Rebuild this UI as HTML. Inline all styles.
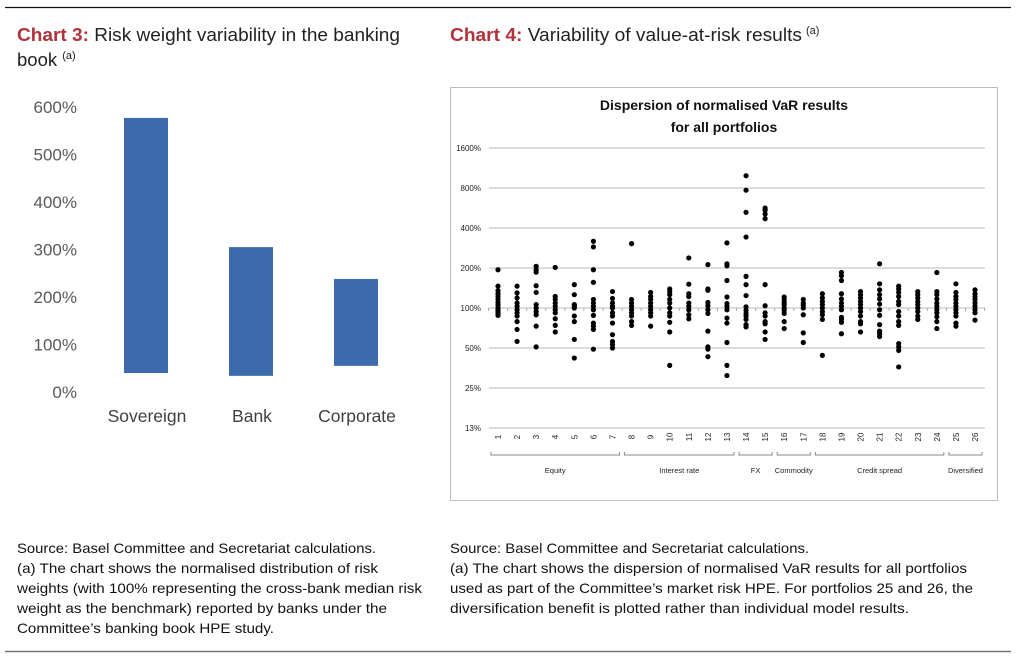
<!DOCTYPE html>
<html><head><meta charset="utf-8"><style>
html,body{margin:0;padding:0;background:#fff;}
svg{display:block;font-family:"Liberation Sans",sans-serif;}
</style></head><body>
<svg id="root" width="1018" height="658" viewBox="0 0 1018 658">
<line x1="5" y1="7.5" x2="1011" y2="7.5" stroke="#111" stroke-width="1.2"/>
<line x1="5" y1="651.5" x2="1011" y2="651.5" stroke="#777" stroke-width="1.5"/>

<g font-size="18.5" fill="#222">
<text x="17" y="41" textLength="383" lengthAdjust="spacingAndGlyphs"><tspan fill="#b0323a" font-weight="bold">Chart 3:</tspan> Risk weight variability in the banking</text>
<text x="17" y="66">book <tspan font-size="11" dy="-7">(a)</tspan></text>
</g>
<g font-size="18.5" fill="#222">
<text x="450" y="41" textLength="352" lengthAdjust="spacingAndGlyphs"><tspan fill="#b0323a" font-weight="bold">Chart 4:</tspan> Variability of value-at-risk results</text>
<text x="806" y="34" font-size="11">(a)</text>
</g>

<g id="c3"></g>

<rect x="450.5" y="87.5" width="547" height="413" fill="#fff" stroke="#bbb"/>
<text x="724" y="110" text-anchor="middle" font-size="14" font-weight="bold" fill="#111">Dispersion of normalised VaR results</text>
<text x="724" y="132" text-anchor="middle" font-size="14" font-weight="bold" fill="#111">for all portfolios</text>
<g id="c4"></g>

<g font-size="14" fill="#111">
<text x="17" y="553" textLength="359" lengthAdjust="spacingAndGlyphs">Source: Basel Committee and Secretariat calculations.</text>
<text x="17" y="573" textLength="361" lengthAdjust="spacingAndGlyphs">(a) The chart shows the normalised distribution of risk</text>
<text x="17" y="593" textLength="405" lengthAdjust="spacingAndGlyphs">weights (with 100% representing the cross-bank median risk</text>
<text x="17" y="613" textLength="370" lengthAdjust="spacingAndGlyphs">weight as the benchmark) reported by banks under the</text>
<text x="17" y="633" textLength="257" lengthAdjust="spacingAndGlyphs">Committee’s banking book HPE study.</text>
</g>
<g font-size="14" fill="#111">
<text x="450" y="553" textLength="359" lengthAdjust="spacingAndGlyphs">Source: Basel Committee and Secretariat calculations.</text>
<text x="450" y="573" textLength="517" lengthAdjust="spacingAndGlyphs">(a) The chart shows the dispersion of normalised VaR results for all portfolios</text>
<text x="450" y="593" textLength="523" lengthAdjust="spacingAndGlyphs">used as part of the Committee’s market risk HPE. For portfolios 25 and 26, the</text>
<text x="450" y="613" textLength="459" lengthAdjust="spacingAndGlyphs">diversification benefit is plotted rather than individual model results.</text>
</g>
</svg>
<script>
const NS="http://www.w3.org/2000/svg";
// Chart 3 data
const c3Categories=["Sovereign","Bank","Corporate"];
const c3Low=[40,34,55];
const c3High=[577,305,238];
const c3Ticks=[0,100,200,300,400,500,600];
// Chart 4 data
const c4Ticks=[12.5,25,50,100,200,400,800,1600];
const c4TickLabels=["13%","25%","50%","100%","200%","400%","800%","1600%"];
const c4Groups=["Equity","Interest rate","FX","Commodity","Credit spread","Diversified"];
const c4GroupStart=[1,8,14,16,18,25];
const c4GroupEnd=[7,13,15,17,24,26];
const c4Values=[
[194,146,135,128,122,116,110,105,100,97,94,91,88],
[146,130,119,109,103,97,92,87,79,69,56],
[206,194,186,147,131,106,100,94,89,73,51],
[202,122,116,109,103,97,92,83,74,66],
[150,126,106,103,100,87,79,58,42],
[318,288,194,156,116,109,103,97,88,77,73,69,49],
[133,118,109,103,100,92,87,77,63,56,53,50],
[305,116,109,103,97,92,87,79,74],
[131,122,116,109,103,97,92,87,73],
[139,133,126,116,109,100,92,87,78,66,37],
[238,151,128,122,109,103,97,89,83],
[212,139,136,110,104,97,91,67,51,49,43],
[309,215,208,161,121,108,103,97,84,77,55,37,31],
[990,770,525,342,173,150,124,102,96,91,87,82,75,72],
[565,545,510,470,150,104,92,87,79,76,66,58],
[121,116,110,106,100,96,91,79,70],
[116,109,105,100,89,65,55],
[128,119,112,106,100,94,89,82,44],
[185,175,161,128,117,109,103,97,85,82,78,64],
[133,126,119,112,106,100,94,87,79,76,66],
[215,152,137,126,117,107,97,88,75,67,64,61],
[146,139,131,122,112,106,94,87,79,74,54,51,48,36],
[133,126,119,112,106,100,94,87,82],
[185,133,126,117,109,103,97,92,86,79,70],
[152,131,122,116,109,103,97,92,87,77,73],
[137,128,122,116,109,103,97,92,81]
];
function mk(tag,attrs,parent,text){const e=document.createElementNS(NS,tag);for(const k in attrs)e.setAttribute(k,attrs[k]);if(text!==undefined)e.textContent=text;parent.appendChild(e);return e;}

// Chart 3
const c3=document.getElementById('c3');
const y3=v=>392-v*0.475;
const x3=i=>146+i*105;
c3Ticks.forEach(t=>{
 const e=mk('text',{x:77,y:y3(t)+6,'text-anchor':'end','font-size':17,fill:'#595959'},c3,t+'%');
 
 
});
c3Categories.forEach((c,i)=>{
 const r=mk('rect',{x:x3(i)-22,y:y3(c3High[i]),width:44,height:y3(c3Low[i])-y3(c3High[i]),fill:'#3c6aad'},c3);
 
 
 const t=mk('text',{x:x3(i)+1,y:422,'text-anchor':'middle','font-size':17.5,fill:'#404040'},c3,c);
 
 
});

// Chart 4
const c4=document.getElementById('c4');
const y4=v=>308-40*Math.log2(v/100);
const x4=n=>498+(n-1)*19.08;
c4Ticks.forEach((t,i)=>{
 const l=mk('line',{x1:489,x2:985,y1:y4(t),y2:y4(t),stroke:'#c8c8c8','stroke-width':1.2},c4);
 
 
 const e=mk('text',{x:481,y:y4(t)+3,'text-anchor':'end','font-size':8,fill:'#222'},c4,c4TickLabels[i]);
 
 
});
for(let n=1;n<=27;n++){
 const tk=mk('line',{x1:x4(n)-9.5,x2:x4(n)-9.5,y1:y4(100),y2:y4(100)+3,stroke:'#aaa'},c4);
 
 
}
c4Values.forEach((vals,i)=>{
 const n=i+1;
 vals.forEach(v=>{
  const d=mk('circle',{cx:x4(n),cy:y4(v),r:2.6,fill:'#000'},c4);
  
  
 });
 const t=mk('text',{x:0,y:0,'font-size':8,fill:'#222','text-anchor':'middle',transform:`translate(${x4(n)+3},437) rotate(-90)`},c4,String(n));
 
 
});
c4Groups.forEach((g,i)=>{
 const a=x4(c4GroupStart[i])-7, b=x4(c4GroupEnd[i])+7;
 const p=mk('path',{d:`M${a},452 V455 H${b} V452`,fill:'none',stroke:'#888','stroke-width':1},c4);
 
 
 const t=mk('text',{x:(a+b)/2,y:473,'text-anchor':'middle','font-size':7.5,fill:'#222'},c4,g);
 
 
});
</script>
</body></html>
